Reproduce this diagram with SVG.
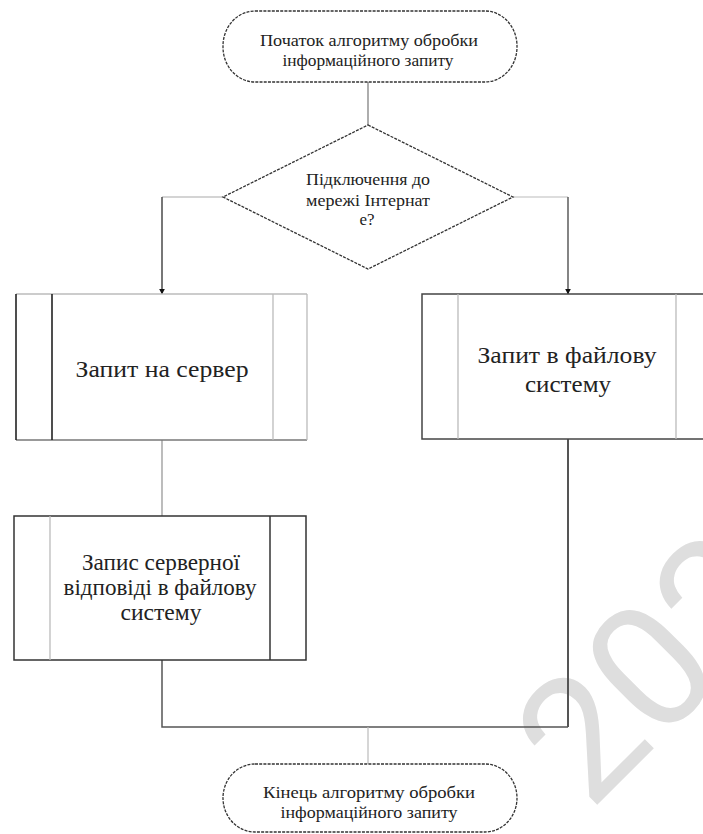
<svg xmlns="http://www.w3.org/2000/svg" width="703" height="834" viewBox="0 0 703 834">
  <style>
    .t { fill: #222; text-anchor: middle; }
    .small { font-size: 17px; }
    .big { font-size: 23px; }
    .term { fill: #fff; stroke: #333; stroke-width: 1.3; stroke-dasharray: 3 1.2; }
    .dia { fill: #fff; stroke: #333; stroke-width: 1.3; stroke-dasharray: 3 1.2; }
    .wm { font-family: Roboto, "Liberation Sans", sans-serif; font-size: 172px; fill: #dedede; }
  </style>
  <defs>
    <marker id="arr" viewBox="0 0 10 10" refX="9" refY="5" markerWidth="6" markerHeight="6" orient="auto" markerUnits="userSpaceOnUse">
      <path d="M0,0 L10,5 L0,10 z" fill="#111"/>
    </marker>
  </defs>

  <rect width="703" height="834" fill="#fff"/>

  <!-- background year stamp -->
  <text class="wm" x="590" y="812" transform="rotate(-45 590 812)">202</text>

  <!-- connectors -->
  <g id="connectors" fill="none">
    <line x1="368" y1="82" x2="368" y2="125" stroke="#777" stroke-width="1.2"/>
    <polyline points="223,197 162,197" stroke="#aaa" stroke-width="1.2"/>
    <line x1="162" y1="197" x2="162" y2="294" stroke="#555" stroke-width="1.6" marker-end="url(#arr)"/>
    <polyline points="513,197 568,197" stroke="#bbb" stroke-width="1.2"/>
    <line x1="568" y1="197" x2="568" y2="294" stroke="#666" stroke-width="1.6" marker-end="url(#arr)"/>
    <line x1="162" y1="440" x2="162" y2="516" stroke="#999" stroke-width="1.3"/>
    <polyline points="162,660 162,727 568,727" stroke="#555" stroke-width="1.5"/>
    <line x1="568" y1="439" x2="568" y2="727" stroke="#555" stroke-width="2"/>
    <line x1="368" y1="727" x2="368" y2="764" stroke="#bbb" stroke-width="1.2"/>
  </g>

  <g font-family="Liberation Serif, Times New Roman, serif">
  <!-- start -->
  <g id="start">
    <rect class="term" x="223" y="11" width="294" height="71" rx="32" ry="35"/>
    <text class="t small" x="369" y="46" textLength="218" lengthAdjust="spacingAndGlyphs">Початок алгоритму  обробки</text>
    <text class="t small" x="368" y="66" textLength="171" lengthAdjust="spacingAndGlyphs">інформаційного запиту</text>
  </g>

  <!-- decision -->
  <g id="decision">
    <polygon class="dia" points="368,125 513,197 368,269 223,197"/>
    <text class="t small" x="368" y="185" textLength="124" lengthAdjust="spacingAndGlyphs">Підключення до</text>
    <text class="t small" x="368" y="206" textLength="124" lengthAdjust="spacingAndGlyphs">мережі Інтернат</text>
    <text class="t small" x="367" y="225">е?</text>
  </g>

  <!-- server request -->
  <g id="server-request">
    <rect x="16" y="294" width="291" height="146" fill="#fff" stroke="none"/>
    <line x1="16" y1="294" x2="307" y2="294" stroke="#bbb" stroke-width="1.3"/>
    <line x1="16" y1="440" x2="307" y2="440" stroke="#777" stroke-width="1.3"/>
    <line x1="16" y1="294" x2="16" y2="440" stroke="#222" stroke-width="1.6"/>
    <line x1="52" y1="294" x2="52" y2="440" stroke="#222" stroke-width="1.6"/>
    <line x1="273" y1="294" x2="273" y2="440" stroke="#bbb" stroke-width="1.3"/>
    <line x1="307" y1="294" x2="307" y2="440" stroke="#bbb" stroke-width="1.3"/>
    <text class="t big" x="162" y="377" textLength="173" lengthAdjust="spacingAndGlyphs">Запит на сервер</text>
  </g>

  <!-- file system request -->
  <g id="fs-request">
    <rect x="422" y="294" width="292" height="145" fill="#fff" stroke="#444" stroke-width="1.5"/>
    <line x1="458" y1="294" x2="458" y2="439" stroke="#bbb" stroke-width="1.3"/>
    <line x1="676" y1="294" x2="676" y2="439" stroke="#bbb" stroke-width="1.3"/>
    <text class="t big" x="567" y="363" textLength="179" lengthAdjust="spacingAndGlyphs">Запит в файлову</text>
    <text class="t big" x="568" y="392" textLength="86" lengthAdjust="spacingAndGlyphs">систему</text>
  </g>

  <!-- write server response -->
  <g id="write-response">
    <rect x="14" y="516" width="292" height="144" fill="#fff" stroke="#333" stroke-width="1.5"/>
    <line x1="50" y1="516" x2="50" y2="660" stroke="#bbb" stroke-width="1.3"/>
    <line x1="270" y1="516" x2="270" y2="660" stroke="#333" stroke-width="1.5"/>
    <text class="t big" x="161" y="570" textLength="158" lengthAdjust="spacingAndGlyphs">Запис серверної</text>
    <text class="t big" x="160" y="595" textLength="193" lengthAdjust="spacingAndGlyphs">відповіді в файлову</text>
    <text class="t big" x="161" y="620" textLength="81" lengthAdjust="spacingAndGlyphs">систему</text>
  </g>

  <!-- end -->
  <g id="end">
    <rect class="term" x="223" y="764" width="294" height="68" rx="32" ry="34"/>
    <text class="t small" x="369" y="798" textLength="212" lengthAdjust="spacingAndGlyphs">Кінець алгоритму  обробки</text>
    <text class="t small" x="369" y="818" textLength="177" lengthAdjust="spacingAndGlyphs">інформаційного запиту</text>
  </g>
  </g>
</svg>
